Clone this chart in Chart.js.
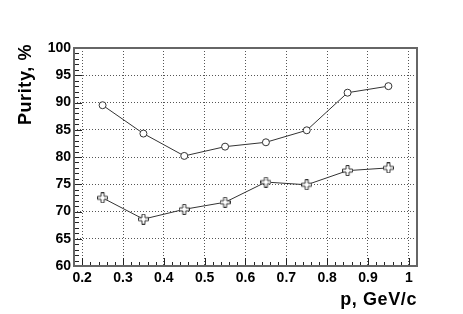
<!DOCTYPE html>
<html>
<head>
<meta charset="utf-8">
<script src="https://cdn.jsdelivr.net/npm/chart.js@4/dist/chart.umd.min.js"></script>
<style>
  html, body { margin: 0; padding: 0; background: #fff; }
  #wrap { width: 463px; height: 314px; }
</style>
</head>
<body>
<div id="wrap"><canvas id="c" width="463" height="314"></canvas></div>
<script>
// ─── DATA ───
const momentum = [0.25, 0.35, 0.45, 0.55, 0.65, 0.75, 0.85, 0.95];
const purityCircle = [89.5, 84.3, 80.2, 81.9, 82.7, 84.9, 91.8, 93.0];
const purityCross = [72.5, 68.6, 70.4, 71.7, 75.4, 74.9, 77.5, 78.0];
const xTicks = [0.2, 0.3, 0.4, 0.5, 0.6, 0.7, 0.8, 0.9, 1.0];
const yTicks = [60, 65, 70, 75, 80, 85, 90, 95, 100];

const FONT = "'Liberation Sans', Arial, sans-serif";

// open cross marker (ROOT style 28)
function crossMarker() {
    const s = 11, c = document.createElement('canvas');
    c.width = s; c.height = s;
    const g = c.getContext('2d');
    const a = 1.5, b = 5; // half arm width, half size
    const m = s / 2;
    g.beginPath();
    g.moveTo(m - a, m - b); g.lineTo(m + a, m - b); g.lineTo(m + a, m - a);
    g.lineTo(m + b, m - a); g.lineTo(m + b, m + a); g.lineTo(m + a, m + a);
    g.lineTo(m + a, m + b); g.lineTo(m - a, m + b); g.lineTo(m - a, m + a);
    g.lineTo(m - b, m + a); g.lineTo(m - b, m - a); g.lineTo(m - a, m - a);
    g.closePath();
    g.fillStyle = '#fff'; g.fill();
    g.strokeStyle = '#333'; g.lineWidth = 1; g.stroke();
    return c;
}

// ─── FRAME, INNER TICKS, TITLES ───
const rootFrame = {
    id: 'rootFrame',
    afterDraw(chart) {
        const { ctx, chartArea: a, scales: { x, y } } = chart;
        ctx.save();
        ctx.strokeStyle = '#222';
        ctx.lineWidth = 1;
        ctx.beginPath();
        // x ticks, every 0.02, major every 0.1
        for (let i = 9; i <= 51; i++) {
            const px = Math.round(x.getPixelForValue(i / 50)) + 0.5;
            const len = i % 5 === 0 ? 8 : 4;
            ctx.moveTo(px, a.bottom); ctx.lineTo(px, a.bottom - len);
        }
        // y ticks, every 1, major every 5
        for (let v = 60; v <= 100; v++) {
            const py = Math.round(y.getPixelForValue(v)) + 0.5;
            const len = v % 5 === 0 ? 8 : 5;
            ctx.moveTo(a.left, py); ctx.lineTo(a.left + len, py);
        }
        ctx.stroke();
        ctx.strokeStyle = '#666';
        ctx.lineWidth = 2;
        ctx.strokeRect(a.left, a.top, a.right - a.left, a.bottom - a.top);

        ctx.fillStyle = '#000';
        ctx.font = 'bold 18px ' + FONT;
        ctx.letterSpacing = '0.6px';
        ctx.textAlign = 'right';
        ctx.textBaseline = 'alphabetic';
        ctx.fillText('p, GeV/c', a.right, 305);
        ctx.translate(31, a.top - 4);
        ctx.rotate(-Math.PI / 2);
        ctx.fillText('Purity, %', 0, 0);
        ctx.restore();
    }
};

const chart = new Chart(document.getElementById('c'), {
    type: 'line',
    data: {
        datasets: [{
            data: momentum.map((p, i) => ({ x: p, y: purityCircle[i] })),
            borderColor: '#333',
            borderWidth: 1,
            pointStyle: 'circle',
            pointRadius: 3.5,
            pointBorderWidth: 1,
            pointBorderColor: '#333',
            pointBackgroundColor: '#fff',
            tension: 0
        }, {
            data: momentum.map((p, i) => ({ x: p, y: purityCross[i] })),
            borderColor: '#333',
            borderWidth: 1,
            pointStyle: crossMarker(),
            tension: 0
        }]
    },
    options: {
        responsive: false,
        animation: false,
        devicePixelRatio: 1,
        layout: { padding: { left: 0, right: 46, top: 48, bottom: 0 } },
        plugins: { legend: { display: false }, tooltip: { enabled: false } },
        scales: {
            x: {
                type: 'linear',
                min: 0.18, max: 1.02,
                afterBuildTicks: s => { s.ticks = xTicks.map(v => ({ value: v })); },
                afterFit: s => { s.height = 48; },
                grid: { color: '#555', lineWidth: 1, drawTicks: false },
                border: { display: false, dash: [1, 2] },
                ticks: {
                    padding: 4,
                    maxRotation: 0,
                    color: '#000',
                    font: { family: FONT, size: 14, weight: 'bold' },
                    callback: v => String(Math.round(v * 10) / 10)
                }
            },
            y: {
                min: 60, max: 100,
                afterBuildTicks: s => { s.ticks = yTicks.map(v => ({ value: v })); },
                afterFit: s => { s.width = 74; },
                grid: { color: '#555', lineWidth: 1, drawTicks: false },
                border: { display: false, dash: [1, 2] },
                ticks: {
                    padding: 3,
                    color: '#000',
                    font: { family: FONT, size: 14, weight: 'bold' }
                }
            }
        }
    },
    plugins: [rootFrame]
});
</script>
</body>
</html>
